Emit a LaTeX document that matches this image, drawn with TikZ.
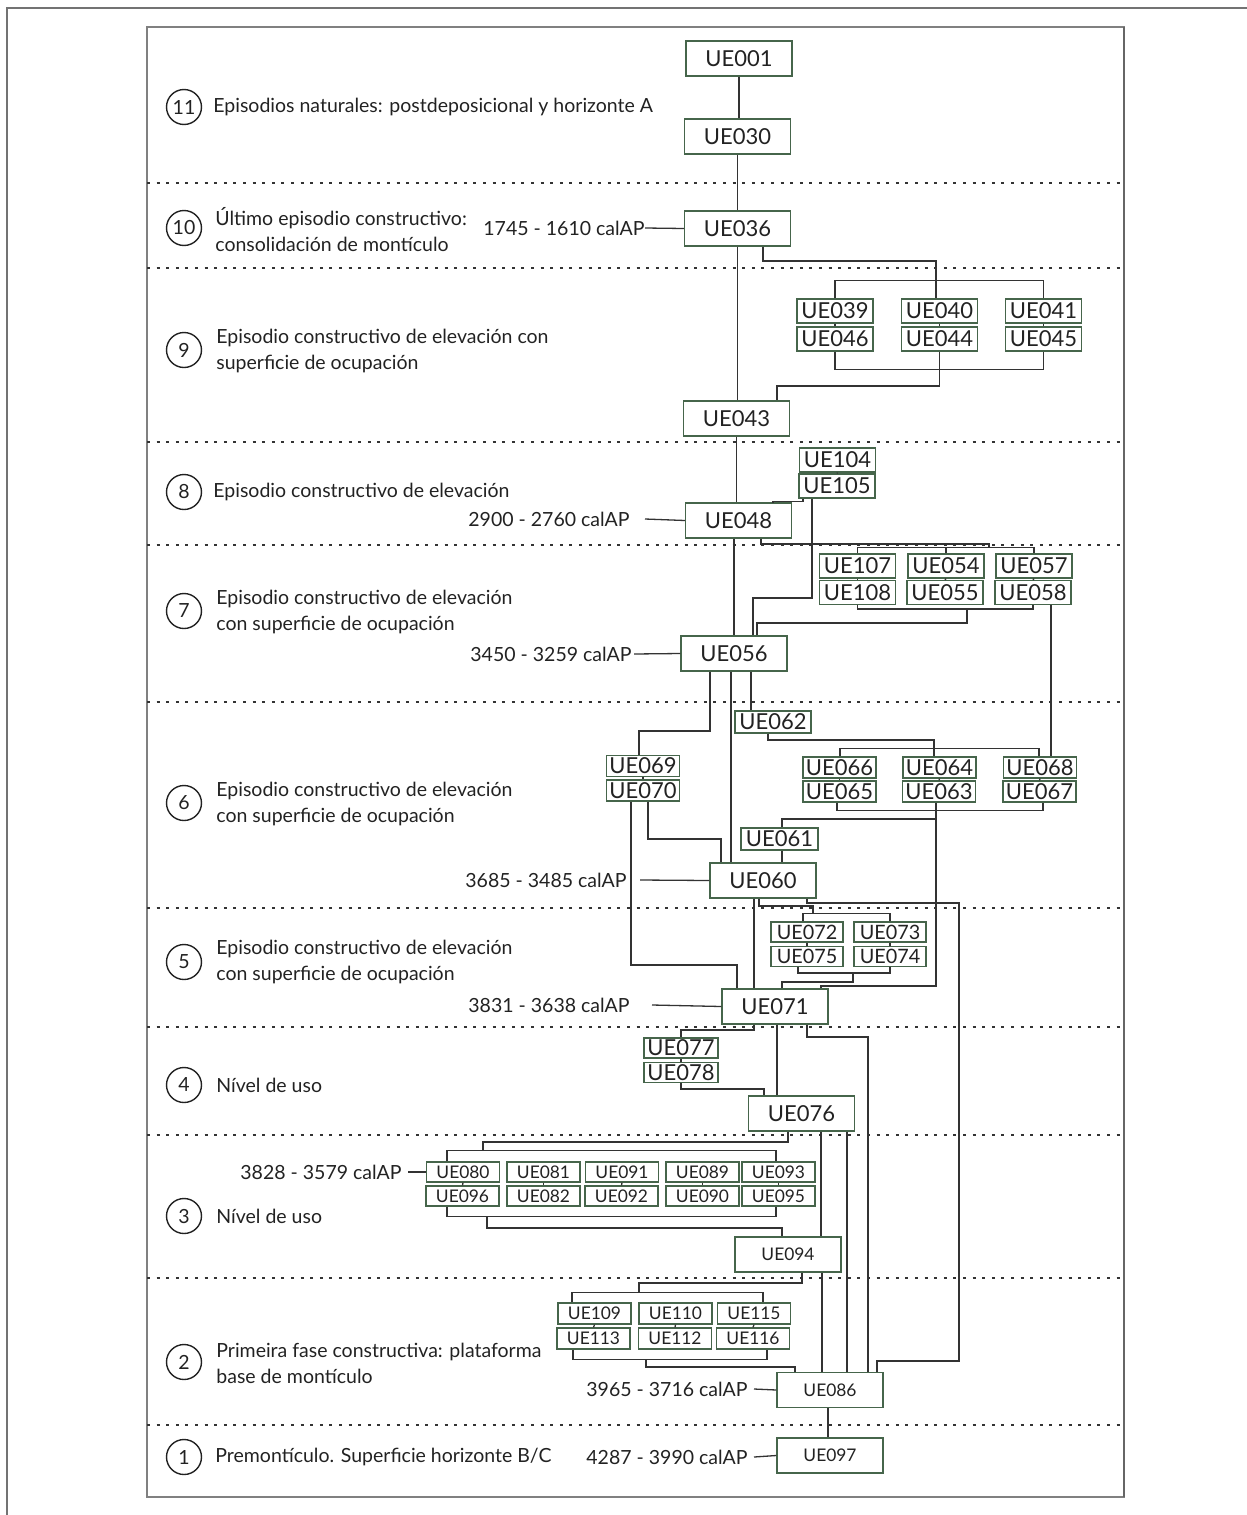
\documentclass[tikz,border=0pt]{standalone}
\usepackage{fontspec}
\setmainfont{Lato}
\usetikzlibrary{calc}
\definecolor{boxc}{HTML}{46654B}
\definecolor{linec}{HTML}{333333}
\definecolor{txtc}{HTML}{222222}
\newcommand\fbig{\fontsize{11}{12}\selectfont}
\newcommand\fmed{\fontsize{9.9}{11}\selectfont}
\newcommand\fsmall{\fontsize{8.7}{10}\selectfont}
\newcommand\flbl{\fontsize{9.75}{13}\selectfont}
\tikzset{
  ue/.style 2 args={draw=boxc, fill=white, line width=0.6pt, inner sep=0pt,
    minimum width=#1*0.5pt, minimum height=#2*0.5pt, text=txtc},
  mbox/.style={ue={106}{35}, font=\fbig},
  mboxs/.style={ue={106}{35}, font=\fsmall},
  sbig/.style={ue={76}{24}, font=\fbig},
  s6/.style={ue={73}{21}, font=\fbig},
  s5/.style={ue={72}{20}, font=\fmed},
  s3/.style={ue={73}{20}, font=\fsmall},
  s2/.style={ue={73}{21}, font=\fsmall},
  circ/.style={circle, draw=txtc, line width=0.7pt, minimum size=35*0.5pt, inner sep=0pt, font=\flbl, text=txtc},
  lbl/.style={anchor=west, align=left, inner sep=0pt, font=\flbl, text=txtc},
  date/.style={anchor=east, inner sep=0pt, font=\flbl, text=txtc},
  sep/.style={draw=linec, line width=0.8pt, dash pattern=on 1.5pt off 3.3pt},
  conn/.style={draw=linec, line width=0.65pt},
}
\begin{document}
\begin{tikzpicture}[x=0.5pt, y=-0.5pt]
\useasboundingbox (0,0) rectangle (1247,1515);
% frames
\draw[draw=gray!90!black, line width=1pt] (7,1515) -- (7,8) -- (1247,8);
\draw[draw=gray, line width=0.6pt] (147,27) rectangle (1124,1497);
\draw[draw=gray!80!black, line width=1.4pt] (1124,27) -- (1124,1497);
% separators
\foreach \yy in {183,268,442,545,702,908,1027,1135,1278,1425}
  \draw[sep] (147,\yy) -- (1124,\yy);
% phase circles and labels
\node[circ] (c11) at (184,107) {11};
\node[lbl] (t11) at (213,107) {Episodios naturales: postdeposicional y horizonte A};
\node[circ] (c10) at (184,228) {10};
\node[lbl] (t10) at (215,230) {Último episodio constructivo:\\consolidación de montículo};
\node[circ] (c9) at (184,350) {9};
\node[lbl] (t9) at (216,351) {Episodio constructivo de elevación con\\superficie de ocupación};
\node[circ] (c8) at (184,492) {8};
\node[lbl] (t8) at (213,492) {Episodio constructivo de elevación};
\node[circ] (c7) at (184,611) {7};
\node[lbl] (t7) at (216,612) {Episodio constructivo de elevación\\con superficie de ocupación};
\node[circ] (c6) at (184,803) {6};
\node[lbl] (t6) at (216,804) {Episodio constructivo de elevación\\con superficie de ocupación};
\node[circ] (c5) at (184,962) {5};
\node[lbl] (t5) at (216,962) {Episodio constructivo de elevación\\con superficie de ocupación};
\node[circ] (c4) at (184,1085) {4};
\node[lbl] (t4) at (216,1085) {Nível de uso};
\node[circ] (c3) at (184,1216) {3};
\node[lbl] (t3) at (216,1216) {Nível de uso};
\node[circ] (c2) at (184,1362) {2};
\node[lbl] (t2) at (216,1363) {Primeira fase constructiva: plataforma\\base de montículo};
\node[circ] (c1) at (184,1457) {1};
\node[lbl] (t1) at (215,1457) {Premontículo. Superficie horizonte B/C};
% main boxes
\node[mbox] (u001) at (739,58.5) {UE001};
\node[mbox] (u030) at (737.5,136.5) {UE030};
\node[mbox] (u036) at (737.5,228.5) {UE036};
\node[mbox] (u043) at (736.5,418.5) {UE043};
\node[mbox] (u048) at (738.5,520.5) {UE048};
\node[mbox] (u056) at (734,653.5) {UE056};
\node[mbox] (u060) at (763,880.5) {UE060};
\node[mbox] (u071) at (775,1006.5) {UE071};
\node[mbox] (u076) at (801.5,1113.5) {UE076};
\node[mboxs] (u094) at (788,1254.5) {UE094};
\node[mboxs] (u086) at (830,1390) {UE086};
\node[mboxs] (u097) at (830,1455.5) {UE097};
% group 9
\node[sbig] (u039) at (835,311) {UE039};
\node[sbig] (u046) at (835,339) {UE046};
\node[sbig] (u040) at (939.5,311) {UE040};
\node[sbig] (u044) at (939.5,339) {UE044};
\node[sbig] (u041) at (1043.5,311) {UE041};
\node[sbig] (u045) at (1043.5,339) {UE045};
% group 8
\node[sbig] (u104) at (837.5,460) {UE104};
\node[sbig] (u105) at (837,486) {UE105};
% group 7
\node[sbig] (u107) at (857.5,566) {UE107};
\node[sbig] (u108) at (857.5,592.5) {UE108};
\node[sbig] (u054) at (946,566) {UE054};
\node[sbig] (u055) at (945,592.5) {UE055};
\node[sbig] (u057) at (1034,566) {UE057};
\node[sbig] (u058) at (1033,592.5) {UE058};
% group 6
\node[ue={76}{22}, font=\fbig] (u062) at (773,722) {UE062};
\node[s6] (u069) at (643,766) {UE069};
\node[s6] (u070) at (643,790.5) {UE070};
\node[s6] (u066) at (839.5,767.5) {UE066};
\node[s6] (u065) at (839.5,791.5) {UE065};
\node[s6] (u064) at (939.5,767.5) {UE064};
\node[s6] (u063) at (939,791.5) {UE063};
\node[s6] (u068) at (1040,767.5) {UE068};
\node[s6] (u067) at (1039.5,791.5) {UE067};
\node[ue={77}{22}, font=\fbig] (u061) at (779.5,839) {UE061};
% group 5
\node[s5] (u072) at (807,932) {UE072};
\node[s5] (u075) at (807,956.5) {UE075};
\node[s5] (u073) at (890,932) {UE073};
\node[s5] (u074) at (890,956.5) {UE074};
% group 4
\node[ue={74}{20}, font=\fbig] (u077) at (681,1048) {UE077};
\node[ue={74}{20}, font=\fbig] (u078) at (681,1072.5) {UE078};
% group 3
\node[s3] (u080) at (463,1172) {UE080};
\node[s3] (u096) at (462.5,1196) {UE096};
\node[s3] (u081) at (543.5,1172) {UE081};
\node[s3] (u082) at (543.5,1196) {UE082};
\node[s3] (u091) at (622,1172) {UE091};
\node[s3] (u092) at (621.5,1196) {UE092};
\node[s3] (u089) at (702.5,1172) {UE089};
\node[s3] (u090) at (702.5,1196) {UE090};
\node[s3] (u093) at (778.5,1172) {UE093};
\node[s3] (u095) at (778.5,1196) {UE095};
% group 2
\node[s2] (u109) at (594.5,1313.5) {UE109};
\node[s2] (u113) at (593.5,1338.5) {UE113};
\node[s2] (u110) at (675.5,1313.5) {UE110};
\node[s2] (u112) at (675,1338.5) {UE112};
\node[s2] (u115) at (754,1313.5) {UE115};
\node[s2] (u116) at (753,1338.5) {UE116};
% dates
\node[date] (d10) at (645,228) {1745 - 1610 calAP};
\node[date] (d8) at (630,519) {2900 - 2760 calAP};
\node[date] (d7) at (632,654) {3450 - 3259 calAP};
\node[date] (d6) at (627,880) {3685 - 3485 calAP};
\node[date] (d5) at (630,1005) {3831 - 3638 calAP};
\node[date] (d3) at (402,1172) {3828 - 3579 calAP};
\node[date] (d2) at (748,1389) {3965 - 3716 calAP};
\node[date] (d1) at (748,1457) {4287 - 3990 calAP};
\begin{scope}[conn]
\draw (d10.east) -- (u036.west);
\draw (d8.east) ++(15,0) -- (u048.west);
\draw (d7.east) ++(2,0) -- (u056.west);
\draw (d6.east) ++(13,0) -- (u060.west);
\draw (d5.east) ++(22,0) -- (u071.west);
\draw (d3.east) ++(6,0) -- (u080.west);
\draw (d2.east) ++(6,0) -- (u086.west);
\draw (d1.east) ++(6,0) -- (u097.west);
% trunk
\draw (u001.south) -- (u001.south |- u030.north);
\draw (u030.south) -- (u030.south |- u036.north);
\draw (u036.south) -- (u036.south |- u043.north);
\draw (u043.south) -- (u043.south |- u048.north);
\draw (u048.south -| u056.north) -- (u056.north);
% group 9
\draw (u036.south -| 763,0) |- (936,261) -- (u040.north -| 936,0);
\draw (u039.north) -- ++(0,-18) -| (u041.north);
\draw (u039.south) -- (u046.north);
\draw (u040.south) -- (u044.north);
\draw (u041.south) -- (u045.north);
\draw (u046.south) -- ++(0,18) -| (u045.south);
\draw (u044.south) |- (777,386) -- (u043.north -| 777,0);
% group 8
\draw (u104.south) -- (u105.north);
\draw (u105.south -| 803,0) -- ++(0,3) -| (u048.north -| 773,0);
\draw (u105.south -| 812,0) |- (753,598) -- (u056.north -| 753,0);
% group 7
\draw (u048.south -| 761,0) |- (989,544) -- (989,548);
\draw (u107.north) -- ++(0,-6) -| (u057.north);
\draw (u054.north) -- ++(0,-6);
\draw (u107.south) -- (u108.north);
\draw (u054.south) -- (u055.north);
\draw (u057.south) -- (u058.north);
\draw (u108.south) -- ++(0,4) -| (u058.south);
\draw (967,608) |- (757,623) -- (u056.north -| 757,0);
\draw (u058.south -| 1051,0) -- (u068.north -| 1051,0);
% group 6
\draw (u056.south -| 710,0) |- (639,731) -- (u069.north -| 639,0);
\draw (u056.south -| 731,0) -- (u060.north -| 731,0);
\draw (u056.south -| 751,0) -- (u062.north -| 751,0);
\draw (u062.south -| 768,0) |- (934,740) -- (u064.north -| 934,0);
\draw (u066.north -| 840,0) -- ++(0,-8) -| (u068.north -| 1039,0);
\draw (u069.south) -- (u070.north);
\draw (u066.south) -- (u065.north);
\draw (u064.south) -- (u063.north);
\draw (u068.south) -- (u067.north);
\draw (u065.south -| 837,0) -- ++(0,8) -| (u067.south -| 1043,0);
\draw (u063.south -| 936,0) |- (821,986) -- (u071.north -| 821,0);
\draw (936,819) -| (u061.north -| 782,0);
\draw (u061.south -| 782,0) -- (u060.north -| 782,0);
\draw (u070.south -| 631,0) |- (737,965) -- (u071.north -| 737,0);
\draw (u070.south -| 648,0) |- (721,839) -- (u060.north -| 721,0);
% group 5
\draw (u060.south -| 754,0) -- (u071.north -| 754,0);
\draw (u060.south -| 759,0) |- (813,906) -- (813,914);
\draw (u072.north -| 803,0) -- ++(0,-8) -| (u073.north);
\draw (u072.south) -- (u075.north);
\draw (u073.south) -- (u074.north);
\draw (u075.south -| 798,0) -- ++(0,6) -| (u074.south);
\draw (853,973) |- (782,982) -- (u071.north -| 782,0);
\draw (u060.south -| 807,0) |- (959,903) |- (877,1361) -- (u086.north -| 877,0);
% group 4
\draw (u071.south -| 754,0) |- (681,1030) -- (u077.north);
\draw (u077.south) -- (u078.north);
\draw (u078.south) |- (764,1089) -- (u076.north -| 764,0);
\draw (u071.south -| 777,0) -- (u076.north -| 777,0);
\draw (u071.south -| 807,0) |- (868,1037) -- (u086.north -| 868,0);
% group 3
\draw (u076.south -| 788,0) |- (483,1142) -- (483,1151);
\draw (u080.north -| 447,0) -- ++(0,-11) -| (u093.north -| 776,0);
\draw (u080.south) -- (u096.north);
\draw (u081.south) -- (u082.north);
\draw (u091.south) -- (u092.north);
\draw (u089.south) -- (u090.north);
\draw (u093.south) -- (u095.north);
\draw (u096.south -| 447,0) -- ++(0,10) -| (u095.south -| 776,0);
\draw (487,1216) |- (782,1228) -- (u094.north -| 782,0);
\draw (u076.south -| 821,0) -- (u094.north -| 821,0);
\draw (u076.south -| 847,0) -- (u086.north -| 847,0);
% group 2
\draw (u094.south -| 802,0) |- (639,1283) -- (639,1293);
\draw (u109.north -| 572,0) -- ++(0,-10) -| (u115.north -| 763,0);
\draw (u109.south) -- (u113.north);
\draw (u110.south) -- (u112.north);
\draw (u115.south) -- (u116.north);
\draw (u113.south -| 573,0) -- ++(0,10) -| (u116.south -| 767,0);
\draw (646,1359) |- (795,1367) -- (u086.north -| 795,0);
\draw (u094.south -| 822,0) -- (u086.north -| 822,0);
\draw (u086.south -| 828,0) -- (u097.north -| 828,0);
\end{scope}
\end{tikzpicture}
\end{document}
